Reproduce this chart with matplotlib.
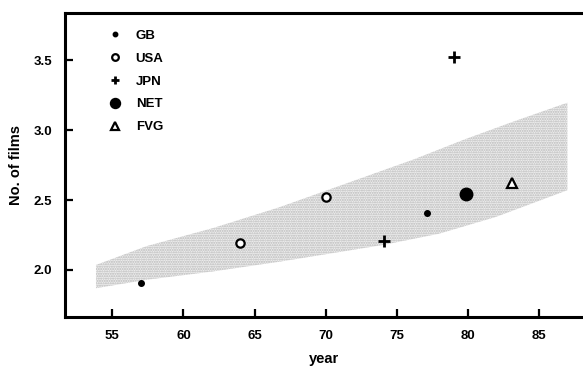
import matplotlib.pyplot as plt
import numpy as np

plt.rcParams['font.family'] = ['Liberation Sans', 'DejaVu Sans']

# points per country
gb_year = [57.0, 77.1]
gb_films = [1.905, 2.41]
usa_year = [64.0, 70.0]
usa_films = [2.19, 2.52]
jpn_year = [74.1, 79.05]
jpn_films = [2.21, 3.52]
net_year = [79.85]
net_films = [2.545]
fvg_year = [83.1]
fvg_films = [2.62]

# shaded band edges
band_upper_year = [53.85, 57.4, 62.1, 66.8, 71.5, 76.2, 79.7, 83.2, 87.0]
band_upper = [2.036, 2.17, 2.30, 2.45, 2.62, 2.79, 2.93, 3.06, 3.195]
band_lower_year = [53.85, 57.4, 62.1, 66.8, 74.1, 78.0, 82.0, 87.0]
band_lower = [1.87, 1.93, 1.99, 2.06, 2.18, 2.26, 2.38, 2.57]

xticks = [55, 60, 65, 70, 75, 80, 85]
yticks = [2.0, 2.5, 3.0, 3.5]

fig = plt.figure(figsize=(5.83, 3.68), dpi=100)
ax = fig.add_axes([65 / 583, 1 - 317.3 / 368, 1 - 65 / 583, (317.3 - 13.3) / 368])

poly_x = band_upper_year + band_lower_year[::-1]
poly_y = band_upper + band_lower[::-1]
ax.fill(poly_x, poly_y, facecolor='#eeeeee', edgecolor='#b8b8b8', hatch='.......', linewidth=0, zorder=1)

ax.plot(gb_year, gb_films, 'o', color='black', ms=4, ls='none', label='GB', zorder=3)
ax.plot(usa_year, usa_films, 'o', mfc='white', mec='black', mew=1.6, ms=6, ls='none', label='USA', zorder=3)
ax.plot(jpn_year, jpn_films, '+', color='black', mew=2, ms=8, ls='none', label='JPN', zorder=3)
ax.plot(net_year, net_films, 'o', color='black', ms=9, ls='none', label='NET', zorder=3)
ax.plot(fvg_year, fvg_films, '^', mfc='white', mec='black', mew=1.6, ms=7, ls='none', label='FVG', zorder=3)

ax.set_xlim(51.67, 88.1)
ax.set_ylim(1.662, 3.834)
ax.set_xticks(xticks)
ax.set_xticklabels([str(t) for t in xticks])
ax.set_yticks(yticks)
ax.set_yticklabels(['%.1f' % t for t in yticks])

for side in ['left', 'bottom', 'top']:
    ax.spines[side].set_linewidth(2.2)
ax.spines['right'].set_visible(False)
ax.tick_params(direction='in', length=6, width=1.6, labelsize=9.5, pad=9)
for lab in ax.get_xticklabels() + ax.get_yticklabels():
    lab.set_fontweight('bold')

ax.set_xlabel('year', fontsize=10.5, fontweight='bold', labelpad=7)
ax.set_ylabel('No. of films', fontsize=10.5, fontweight='bold', labelpad=8)

leg = ax.legend(loc='upper left', bbox_to_anchor=(0.06, 0.985), frameon=False,
                fontsize=9.5, labelspacing=0.8, handletextpad=1.1, handlelength=1.0,
                markerscale=0.8)
for t in leg.get_texts():
    t.set_fontweight('bold')

fig.savefig('out.png', dpi=100)
